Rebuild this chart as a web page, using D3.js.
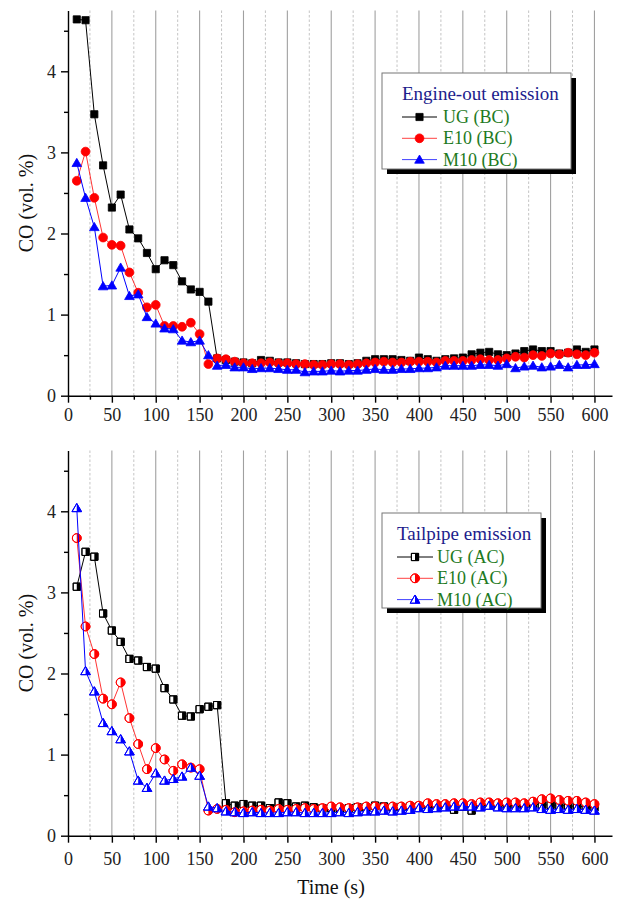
<!DOCTYPE html>
<html>
<head>
<meta charset="utf-8">
<script src="https://cdn.jsdelivr.net/npm/d3@7"></script>
<style>
  html, body { margin: 0; padding: 0; background: #fff; }
  svg { display: block; font-family: "Liberation Serif", "Times New Roman", serif; }
</style>
</head>
<body>
<svg id="chart" width="618" height="900"></svg>
<script>
// Sampling times (s)
const times = d3.range(10, 601, 10);

// Engine-out emission, before catalyst (CO vol. %)
const ugBC = [4.64, 4.63, 3.47, 2.84, 2.32, 2.48, 2.05, 1.94, 1.76, 1.56,
  1.67, 1.61, 1.41, 1.31, 1.28, 1.16, 0.46, 0.44, 0.42, 0.41,
  0.40, 0.44, 0.43, 0.41, 0.41, 0.40, 0.39, 0.39, 0.39, 0.40,
  0.40, 0.39, 0.40, 0.43, 0.45, 0.45, 0.45, 0.44, 0.43, 0.47,
  0.45, 0.43, 0.45, 0.46, 0.47, 0.51, 0.53, 0.54, 0.51, 0.50,
  0.52, 0.55, 0.57, 0.55, 0.55, 0.52, 0.53, 0.57, 0.54, 0.57];
const e10BC = [2.65, 3.01, 2.44, 1.95, 1.86, 1.85, 1.52, 1.27, 1.09, 1.12,
  0.86, 0.86, 0.85, 0.90, 0.76, 0.39, 0.46, 0.45, 0.42, 0.40,
  0.40, 0.40, 0.41, 0.40, 0.40, 0.39, 0.39, 0.38, 0.38, 0.39,
  0.39, 0.38, 0.39, 0.40, 0.41, 0.42, 0.41, 0.41, 0.42, 0.42,
  0.42, 0.41, 0.43, 0.43, 0.43, 0.44, 0.45, 0.44, 0.44, 0.46,
  0.48, 0.47, 0.50, 0.49, 0.52, 0.51, 0.53, 0.51, 0.50, 0.53];
const m10BC = [2.87, 2.44, 2.08, 1.35, 1.36, 1.58, 1.23, 1.25, 0.97, 0.89,
  0.83, 0.82, 0.68, 0.66, 0.68, 0.50, 0.37, 0.38, 0.35, 0.35,
  0.33, 0.34, 0.34, 0.33, 0.32, 0.32, 0.29, 0.30, 0.30, 0.31,
  0.30, 0.31, 0.31, 0.32, 0.33, 0.32, 0.32, 0.33, 0.33, 0.34,
  0.34, 0.35, 0.37, 0.37, 0.37, 0.37, 0.38, 0.38, 0.37, 0.39,
  0.34, 0.36, 0.37, 0.35, 0.36, 0.38, 0.35, 0.38, 0.38, 0.39];

// Tailpipe emission, after catalyst (CO vol. %)
const ugAC = [3.07, 3.50, 3.44, 2.74, 2.53, 2.39, 2.18, 2.16, 2.08, 2.06,
  1.82, 1.68, 1.48, 1.47, 1.56, 1.59, 1.61, 0.40, 0.37, 0.39,
  0.37, 0.37, 0.34, 0.41, 0.40, 0.36, 0.37, 0.35, 0.34, 0.34,
  0.33, 0.34, 0.35, 0.35, 0.37, 0.36, 0.35, 0.35, 0.36, 0.36,
  0.37, 0.37, 0.36, 0.32, 0.36, 0.31, 0.36, 0.38, 0.38, 0.37,
  0.38, 0.38, 0.39, 0.38, 0.38, 0.37, 0.37, 0.36, 0.36, 0.35];
const e10AC = [3.67, 2.58, 2.24, 1.69, 1.62, 1.89, 1.45, 1.13, 0.82, 1.08,
  0.94, 0.80, 0.88, 0.84, 0.82, 0.31, 0.33, 0.32, 0.29, 0.30,
  0.31, 0.32, 0.31, 0.33, 0.32, 0.33, 0.34, 0.33, 0.34, 0.36,
  0.35, 0.34, 0.35, 0.36, 0.36, 0.35, 0.36, 0.36, 0.37, 0.37,
  0.40, 0.39, 0.39, 0.40, 0.40, 0.39, 0.41, 0.41, 0.40, 0.41,
  0.41, 0.40, 0.42, 0.45, 0.46, 0.44, 0.43, 0.43, 0.41, 0.39];
const m10AC = [4.04, 2.03, 1.78, 1.39, 1.29, 1.19, 1.04, 0.68, 0.59, 0.77,
  0.68, 0.70, 0.73, 0.84, 0.74, 0.36, 0.34, 0.30, 0.29, 0.28,
  0.29, 0.28, 0.28, 0.28, 0.29, 0.29, 0.28, 0.28, 0.28, 0.28,
  0.29, 0.28, 0.29, 0.30, 0.30, 0.31, 0.30, 0.31, 0.32, 0.34,
  0.33, 0.34, 0.35, 0.36, 0.36, 0.36, 0.35, 0.37, 0.35, 0.34,
  0.34, 0.34, 0.35, 0.33, 0.32, 0.33, 0.32, 0.33, 0.32, 0.31];

// Axis ticks
const xMajorTicks = d3.range(0, 601, 50);
const xMinorTicks = d3.range(25, 576, 50);
const yMajorTicks = [0, 1, 2, 3, 4];
const yMinorTicks = [0.5, 1.5, 2.5, 3.5, 4.5];

// Legend text
const topTitle = "Engine-out emission";
const topLabels = ["UG (BC)", "E10 (BC)", "M10 (BC)"];
const bottomTitle = "Tailpipe emission";
const bottomLabels = ["UG (AC)", "E10 (AC)", "M10 (AC)"];

const colors = ["#000000", "#ff0000", "#0000ff"];
const shapes = ["square", "circle", "triangle"];

const svg = d3.select("#chart");
const x = d3.scaleLinear().domain([0, 620]).range([68, 612]);

function markerPath(shape) {
  if (shape === "square") return "M-3.6,-3.6H3.6V3.6H-3.6Z";
  if (shape === "circle") return d3.arc()({innerRadius: 0, outerRadius: 4.4, startAngle: 0, endAngle: 2 * Math.PI});
  return "M0,-4.6L4.8,3.6L-4.8,3.6Z";
}
function halfPath(shape) {
  if (shape === "square") return "M0,-3.6H3.6V3.6H0Z";
  if (shape === "circle") return d3.arc()({innerRadius: 0, outerRadius: 4.4, startAngle: 0, endAngle: Math.PI});
  return "M0,-4.6L4.8,3.6L0,3.6Z";
}

function drawMarker(g, shape, color, half) {
  if (half) {
    g.append("path").attr("d", markerPath(shape)).attr("fill", "#fff")
      .attr("stroke", color).attr("stroke-width", 1);
    g.append("path").attr("d", halfPath(shape)).attr("fill", color).attr("stroke", "none");
    g.append("path").attr("d", markerPath(shape)).attr("fill", "none")
      .attr("stroke", color).attr("stroke-width", 1);
  } else {
    g.append("path").attr("d", markerPath(shape)).attr("fill", color)
      .attr("stroke", color).attr("stroke-width", 0.8);
  }
}

function panel(opts) {
  const y = d3.scaleLinear().domain([0, 4.75]).range([opts.y0, opts.y0 - 4.75 * 81.1]);
  const top = y(4.75), bottom = y(0);
  const g = svg.append("g");

  // vertical grid
  g.append("g").selectAll("line").data(xMinorTicks).join("line")
    .attr("x1", d => x(d)).attr("x2", d => x(d)).attr("y1", top).attr("y2", bottom)
    .attr("stroke", "#b5b5b5").attr("stroke-width", 0.8).attr("stroke-dasharray", "2.5,2");
  g.append("g").selectAll("line").data(xMajorTicks.filter(d => d > 0)).join("line")
    .attr("x1", d => x(d)).attr("x2", d => x(d)).attr("y1", top).attr("y2", bottom)
    .attr("stroke", "#a0a0a0").attr("stroke-width", 1.1);

  // axes
  const xAxis = g.append("g").attr("transform", `translate(0,${bottom})`)
    .call(d3.axisBottom(x).tickValues(xMajorTicks).tickSize(7).tickSizeOuter(0)
      .tickPadding(opts.xPad).tickFormat(d3.format("d")));
  const xMinor = g.append("g").attr("transform", `translate(0,${bottom})`)
    .call(d3.axisBottom(x).tickValues(xMinorTicks).tickSize(4).tickFormat(""));
  xMinor.select(".domain").remove();
  const yAxis = g.append("g").attr("transform", `translate(${x(0)},0)`)
    .call(d3.axisLeft(y).tickValues(yMajorTicks).tickSize(7).tickSizeOuter(0)
      .tickPadding(5).tickFormat(d3.format("d")));
  const yMinor = g.append("g").attr("transform", `translate(${x(0)},0)`)
    .call(d3.axisLeft(y).tickValues(yMinorTicks).tickSize(4).tickFormat(""));
  yMinor.select(".domain").remove();
  [xAxis, xMinor, yAxis, yMinor].forEach(a => {
    a.selectAll("path, line").attr("stroke", "#000").attr("stroke-width", 1.4);
    a.selectAll("text").attr("font-family", "Liberation Serif, serif").attr("font-size", 18).attr("fill", "#222");
  });

  // y title
  g.append("text")
    .attr("transform", `translate(26,${(top + bottom) / 2}) rotate(-90)`)
    .attr("text-anchor", "middle").attr("dominant-baseline", "central")
    .attr("font-size", 20).attr("fill", "#111").text("CO (vol. %)");

  // series
  const line = d3.line().x((d, i) => x(times[i])).y(d => y(d));
  opts.series.forEach((vals, k) => {
    g.append("path").datum(vals).attr("d", line).attr("fill", "none")
      .attr("stroke", colors[k]).attr("stroke-width", k === 1 ? 0.8 : 1);
    const ms = g.append("g");
    vals.forEach((v, i) => {
      const m = ms.append("g").attr("transform", `translate(${x(times[i])},${y(v)})`);
      drawMarker(m, shapes[k], colors[k], opts.half);
    });
  });

  // legend
  const L = opts.legend;
  const lg = svg.append("g");
  lg.append("rect").attr("x", L.x + 5).attr("y", L.y + 5).attr("width", L.w).attr("height", L.h).attr("fill", "#000");
  lg.append("rect").attr("x", L.x).attr("y", L.y).attr("width", L.w).attr("height", L.h)
    .attr("fill", "#fff").attr("stroke", "#777").attr("stroke-width", 1);
  lg.append("text").attr("x", L.titleX).attr("y", L.y + 27).attr("font-size", 19)
    .attr("fill", "#1c1c8c").text(L.title);
  L.labels.forEach((t, k) => {
    const cy = L.y + 44 + k * 21.3;
    lg.append("line").attr("x1", L.lineX1).attr("x2", L.lineX2).attr("y1", cy).attr("y2", cy)
      .attr("stroke", colors[k]).attr("stroke-width", 1).attr("stroke-opacity", k === 0 ? 1 : 0.75);
    const m = lg.append("g").attr("transform", `translate(${(L.lineX1 + L.lineX2) / 2},${cy})`);
    drawMarker(m, shapes[k], colors[k], opts.half);
    lg.append("text").attr("x", L.textX).attr("y", cy + 6).attr("font-size", 18)
      .attr("fill", "#1e7a1e").text(t);
  });
}

panel({
  y0: 395.7, xPad: 6, half: false,
  series: [ugBC, e10BC, m10BC],
  legend: {x: 382, y: 73, w: 189, h: 96, title: topTitle, titleX: 402, labels: topLabels,
           lineX1: 402, lineX2: 437, textX: 443}
});
panel({
  y0: 835.7, xPad: 10, half: true,
  series: [ugAC, e10AC, m10AC],
  legend: {x: 382, y: 513, w: 159, h: 95, title: bottomTitle, titleX: 397, labels: bottomLabels,
           lineX1: 397, lineX2: 433, textX: 437}
});

// x title
svg.append("text").attr("x", 331).attr("y", 894).attr("text-anchor", "middle")
  .attr("font-size", 20).attr("fill", "#111").text("Time (s)");
</script>
</body>
</html>
